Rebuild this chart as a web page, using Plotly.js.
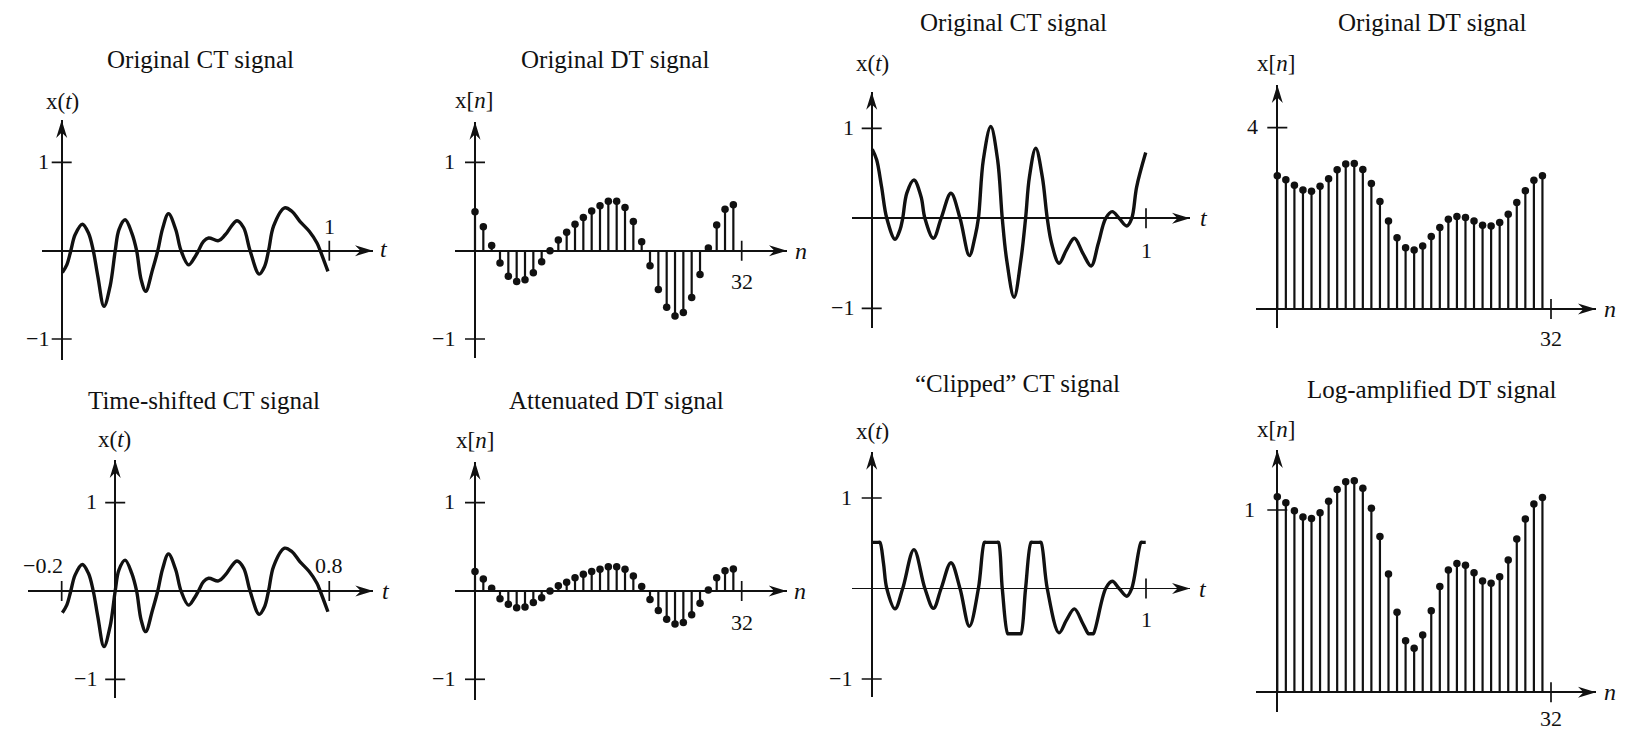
<!DOCTYPE html>
<html>
<head>
<meta charset="utf-8">
<script src="https://cdn.plot.ly/plotly-3.0.1.min.js"></script>
<style>
html,body{margin:0;padding:0;background:#fff;}
#chart{width:1630px;height:732px;}
</style>
</head>
<body>
<div id="chart"></div>
<script>
// ===================== DATA =====================
// Original CT signal (top-left), also used time-shifted (bottom-left)
const ctT = [0.0025, 0.019, 0.034, 0.05, 0.077, 0.10, 0.118, 0.135, 0.158, 0.181, 0.2, 0.214, 0.237, 0.262, 0.28, 0.297, 0.314, 0.339, 0.359, 0.377, 0.399, 0.426, 0.446, 0.474, 0.496, 0.511, 0.53, 0.549, 0.586, 0.611, 0.655, 0.68, 0.704, 0.738, 0.758, 0.773, 0.792, 0.833, 0.86, 0.89, 0.925, 0.954, 0.966, 0.995];
const ctV = [-0.246, -0.16, 0, 0.18, 0.30, 0.20, 0, -0.29, -0.63, -0.40, 0, 0.24, 0.35, 0.20, 0, -0.33, -0.46, -0.22, 0, 0.25, 0.42, 0.24, 0, -0.16, -0.08, 0, 0.106, 0.144, 0.114, 0.18, 0.34, 0.26, 0, -0.265, -0.18, 0, 0.28, 0.485, 0.447, 0.333, 0.22, 0.087, 0, -0.235];
const timeShift = -0.2;

// Original CT signal (top, third panel)
const ct2T = [0.002, 0.018, 0.036, 0.055, 0.085, 0.103, 0.113, 0.128, 0.154, 0.18, 0.194, 0.225, 0.253, 0.289, 0.322, 0.356, 0.377, 0.389, 0.407, 0.434, 0.459, 0.476, 0.492, 0.519, 0.544, 0.561, 0.575, 0.598, 0.622, 0.64, 0.656, 0.683, 0.71, 0.739, 0.77, 0.8, 0.826, 0.853, 0.877, 0.902, 0.93, 0.948, 0.966, 0.999];
const ct2V = [0.767, 0.65, 0.35, 0, -0.233, -0.13, 0, 0.28, 0.426, 0.24, 0, -0.222, 0, 0.278, 0, -0.415, -0.20, 0, 0.65, 1.02, 0.65, 0, -0.46, -0.878, -0.46, 0, 0.46, 0.778, 0.46, 0, -0.28, -0.5, -0.35, -0.222, -0.39, -0.53, -0.28, 0, 0.074, 0, -0.085, 0, 0.35, 0.73];

// "Clipped" CT signal
const clipT = [0.002, 0.025, 0.03, 0.043, 0.055, 0.085, 0.113, 0.154, 0.194, 0.225, 0.253, 0.289, 0.322, 0.356, 0.389, 0.411, 0.416, 0.436, 0.457, 0.462, 0.476, 0.496, 0.501, 0.52, 0.539, 0.544, 0.561, 0.581, 0.586, 0.599, 0.612, 0.617, 0.64, 0.683, 0.71, 0.739, 0.77, 0.79, 0.795, 0.803, 0.808, 0.853, 0.877, 0.902, 0.93, 0.948, 0.982, 0.987, 0.999];
const clipV = [0.51, 0.51, 0.51, 0.28, 0, -0.225, 0, 0.43, 0, -0.22, 0, 0.285, 0, -0.417, 0, 0.51, 0.51, 0.51, 0.51, 0.51, 0, -0.5, -0.5, -0.5, -0.5, -0.5, 0, 0.51, 0.51, 0.51, 0.51, 0.51, 0, -0.49, -0.35, -0.225, -0.39, -0.5, -0.5, -0.5, -0.5, 0, 0.08, 0, -0.085, 0, 0.51, 0.51, 0.51];

// DT signals, n = 0..31
const dtN = [0,1,2,3,4,5,6,7,8,9,10,11,12,13,14,15,16,17,18,19,20,21,22,23,24,25,26,27,28,29,30,31];
const dtV = [0.44, 0.27, 0.06, -0.14, -0.29, -0.35, -0.33, -0.25, -0.125, 0.0, 0.12, 0.21, 0.30, 0.375, 0.45, 0.51, 0.56, 0.56, 0.49, 0.33, 0.10, -0.17, -0.44, -0.64, -0.74, -0.70, -0.53, -0.27, 0.03, 0.29, 0.47, 0.52];
const attV = [0.22, 0.136, 0.03, -0.087, -0.15, -0.19, -0.18, -0.13, -0.076, 0, 0.06, 0.10, 0.15, 0.19, 0.22, 0.246, 0.276, 0.276, 0.246, 0.17, 0.05, -0.095, -0.22, -0.32, -0.375, -0.356, -0.27, -0.14, 0.01, 0.15, 0.23, 0.25];
const dt2V = [2.94, 2.85, 2.73, 2.625, 2.60, 2.71, 2.875, 3.07, 3.20, 3.21, 3.08, 2.77, 2.37, 1.94, 1.57, 1.35, 1.30, 1.39, 1.60, 1.80, 1.98, 2.04, 2.02, 1.94, 1.85, 1.83, 1.91, 2.09, 2.35, 2.61, 2.84, 2.94];
const logV = [1.073, 1.04, 0.996, 0.962, 0.954, 0.985, 1.048, 1.113, 1.155, 1.161, 1.119, 1.009, 0.854, 0.649, 0.439, 0.283, 0.241, 0.314, 0.448, 0.580, 0.671, 0.707, 0.697, 0.656, 0.611, 0.598, 0.634, 0.726, 0.841, 0.951, 1.033, 1.069];

// Titles and axis names
const titles = ["Original CT signal", "Original DT signal", "Original CT signal", "Original DT signal",
                "Time-shifted CT signal", "Attenuated DT signal", "\u201cClipped\u201d CT signal", "Log-amplified DT signal"];
const yNames = ["x(<i>t</i>)", "x[<i>n</i>]", "x(<i>t</i>)", "x[<i>n</i>]", "x(<i>t</i>)", "x[<i>n</i>]", "x(<i>t</i>)", "x[<i>n</i>]"];
const xNames = ["<i>t</i>", "<i>n</i>", "<i>t</i>", "<i>n</i>", "<i>t</i>", "<i>n</i>", "<i>t</i>", "<i>n</i>"];

// Tick values and labels
const yTickVals = [[1,-1],[1,-1],[1,-1],[4],[1,-1],[1,-1],[1,-1],[1]];
const yTickText = [["1","\u22121"],["1","\u22121"],["1","\u22121"],["4"],["1","\u22121"],["1","\u22121"],["1","\u22121"],["1"]];
const xTickVals = [[1],[32],[1],[32],[-0.2,0.8],[32],[1],[32]];
const xTickText = [["1"],["32"],["1"],["32"],["\u22120.2","0.8"],["32"],["1"],["32"]];

// ===================== LAYOUT GEOMETRY (pixels) =====================
const W = 1630, H = 732;
const FONT = '"Liberation Serif", "Times New Roman", serif';
const INK = '#111111';
// px0/py0: pixel of data zero; sx/sy: pixels per unit; xl/xr, yt/yb: axis extents
const geo = [
  {px0:61.7,   sx:267.6, py0:250.7, sy:88.3,  xl:41.7,  xr:373,   yt:120,   yb:360,   ygap:13, xdy:24,  xdx:[0]},
  {px0:475,    sx:8.334, py0:250.7, sy:88.3,  xl:455,   xr:787,   yt:121.7, yb:358.3, ygap:20, xdy:-31, xdx:[0]},
  {px0:871.7,  sx:274.3, py0:218.3, sy:90,    xl:851.7, xr:1190,  yt:91.7,  yb:328.3, ygap:18, xdy:-32, xdx:[0]},
  {px0:1277.3, sx:8.553, py0:309,   sy:45.33, xl:1256,  xr:1596,  yt:85,    yb:328.3, ygap:19, xdy:-29, xdx:[0]},
  {px0:115.2,  sx:267.6, py0:591,   sy:88.3,  xl:28.3,  xr:373.3, yt:460,   yb:698.3, ygap:18, xdy:26,  xdx:[-19,0]},
  {px0:475,    sx:8.334, py0:591,   sy:88.3,  xl:455,   xr:786.7, yt:461.7, yb:700,   ygap:20, xdy:-31, xdx:[0]},
  {px0:871.7,  sx:274.3, py0:588.5, sy:90.5,  xl:851.7, xr:1190,  yt:451.7, yb:696.7, ygap:20, xdy:-31, xdx:[0]},
  {px0:1277.3, sx:8.553, py0:692.3, sy:182.3, xl:1256,  xr:1596,  yt:450,   yb:711.7, ygap:22, xdy:-26, xdx:[0]}
];
const titlePos = [[200,59],[615,59],[1014,22],[1432,23],[204,400],[616,400],[1018,383],[1432,389]];
const yNamePos = [[62,101.7],[474,100],[872,63],[1276,63],[115,439],[475,441],[872,431],[1276,429]];
const xNamePos = [[384,249],[801,251],[1204,218],[1610,309],[386,591],[800,591],[1203,589],[1610,692]];

const layout = {
  width: W, height: H,
  margin: {l:0, r:0, t:0, b:0, pad:0},
  paper_bgcolor: '#ffffff', plot_bgcolor: 'rgba(0,0,0,0)',
  showlegend: false,
  shapes: [], annotations: []
};

function sfx(i){ return i === 0 ? '' : String(i+1); }

geo.forEach((g, i) => {
  const s = sfx(i);
  const xr0 = (g.xl - g.px0)/g.sx, xr1 = (g.xr - g.px0)/g.sx;
  const yr0 = (g.py0 - g.yb)/g.sy, yr1 = (g.py0 - g.yt)/g.sy;
  const common = {zeroline:true, zerolinecolor:INK, zerolinewidth:1.7, showgrid:false,
                  showticklabels:false, ticks:'', showline:false, fixedrange:true};
  layout['xaxis'+s] = Object.assign({domain:[g.xl/W, g.xr/W], range:[xr0, xr1], anchor:'y'+s}, common);
  layout['yaxis'+s] = Object.assign({domain:[1-g.yb/H, 1-g.yt/H], range:[yr0, yr1], anchor:'x'+s}, common);
  const xref = 'x'+s, yref = 'y'+s;
  // arrowheads
  layout.shapes.push({type:'path', xref, yref, xsizemode:'pixel', ysizemode:'pixel', xanchor:xr1, yanchor:0,
    path:'M0,0 L-18,5.5 L-12.5,0 L-18,-5.5 Z', fillcolor:INK, line:{width:0, color:'rgba(0,0,0,0)'}});
  layout.shapes.push({type:'path', xref, yref, xsizemode:'pixel', ysizemode:'pixel', xanchor:0, yanchor:yr1,
    path:'M0,0 L-5.5,-18 L0,-12.5 L5.5,-18 Z', fillcolor:INK, line:{width:0, color:'rgba(0,0,0,0)'}});
  // y ticks crossing the vertical axis
  yTickVals[i].forEach((v, j) => {
    layout.shapes.push({type:'line', xref, yref, xsizemode:'pixel', xanchor:0, x0:-10, x1:10, y0:v, y1:v,
      line:{color:INK, width:1.7}});
    layout.annotations.push({xref, yref, x:0, y:v, text:yTickText[i][j], showarrow:false,
      xanchor:'right', yanchor:'middle', xshift:-(g.ygap-2), yshift:1,
      font:{family:FONT, size:22, color:INK}});
  });
  // x ticks crossing the horizontal axis
  xTickVals[i].forEach((v, j) => {
    layout.shapes.push({type:'line', xref, yref, ysizemode:'pixel', yanchor:0, y0:-10, y1:10, x0:v, x1:v,
      line:{color:INK, width:1.7}});
    layout.annotations.push({xref, yref, x:v, y:0, text:xTickText[i][j], showarrow:false,
      xanchor:'center', yanchor:'middle', xshift:g.xdx[j] || 0, yshift:g.xdy,
      font:{family:FONT, size:22, color:INK}});
  });
  // titles and axis names
  layout.annotations.push({xref:'paper', yref:'paper', x:titlePos[i][0]/W, y:1-titlePos[i][1]/H,
    text:titles[i], showarrow:false, xanchor:'center', yanchor:'middle', font:{family:FONT, size:25, color:INK}});
  layout.annotations.push({xref:'paper', yref:'paper', x:yNamePos[i][0]/W, y:1-yNamePos[i][1]/H,
    text:yNames[i], showarrow:false, xanchor:'center', yanchor:'middle', font:{family:FONT, size:23, color:INK}});
  layout.annotations.push({xref:'paper', yref:'paper', x:xNamePos[i][0]/W, y:1-xNamePos[i][1]/H,
    text:xNames[i], showarrow:false, xanchor:'center', yanchor:'middle', font:{family:FONT, size:24, color:INK}});
});

// ===================== TRACES =====================
const traces = [];
function ctTrace(x, y, i){
  const s = sfx(i);
  return {type:'scatter', mode:'lines', x, y, xaxis:'x'+s, yaxis:'y'+s, hoverinfo:'skip',
          line:{color:INK, width:3.4, shape:'spline', smoothing:1}};
}
function stemTraces(n, v, i){
  const s = sfx(i);
  const sx = [], sy = [];
  n.forEach((k, j) => { sx.push(k, k, null); sy.push(0, v[j], null); });
  return [
    {type:'scatter', mode:'lines', x:sx, y:sy, xaxis:'x'+s, yaxis:'y'+s, hoverinfo:'skip',
     line:{color:INK, width:2.2}},
    {type:'scatter', mode:'markers', x:n, y:v, xaxis:'x'+s, yaxis:'y'+s, hoverinfo:'skip',
     marker:{color:INK, size:7.5, line:{width:0}}}
  ];
}
traces.push(ctTrace(ctT, ctV, 0));
traces.push(...stemTraces(dtN, dtV, 1));
traces.push(ctTrace(ct2T, ct2V, 2));
traces.push(...stemTraces(dtN, dt2V, 3));
traces.push(ctTrace(ctT.map(t => t + timeShift), ctV, 4));
traces.push(...stemTraces(dtN, attV, 5));
traces.push(ctTrace(clipT, clipV, 6));
traces.push(...stemTraces(dtN, logV, 7));

Plotly.newPlot('chart', traces, layout, {staticPlot:true, displayModeBar:false});
</script>
</body>
</html>
